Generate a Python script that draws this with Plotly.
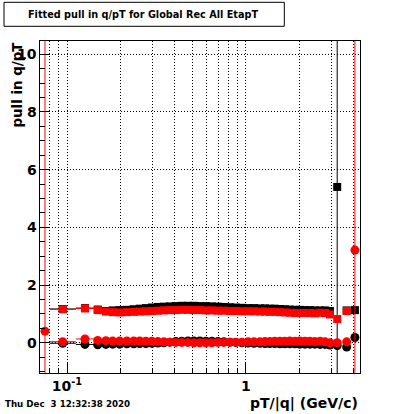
import plotly.graph_objects as go

# ---- data ----
pt = [0.0946, 0.126, 0.1485, 0.165, 0.180, 0.197, 0.216, 0.236, 0.255, 0.276,
      0.298, 0.322, 0.348, 0.376, 0.406, 0.438, 0.474, 0.512, 0.553, 0.597,
      0.645, 0.697, 0.753, 0.814, 0.879, 0.950, 1.03, 1.11, 1.20, 1.28,
      1.36, 1.45, 1.55, 1.65, 1.76, 1.88, 2.00, 2.14, 2.28, 2.43,
      2.60, 2.77, 2.95, 3.24, 3.66, 4.07]

black_sigma = [1.17, 1.20, 1.15, 1.10, 1.12, 1.13, 1.14, 1.16, 1.18, 1.20,
               1.22, 1.24, 1.25, 1.26, 1.27, 1.28, 1.28, 1.28, 1.27, 1.27,
               1.26, 1.25, 1.24, 1.23, 1.22, 1.21, 1.20, 1.20, 1.19, 1.19,
               1.18, 1.18, 1.17, 1.16, 1.15, 1.14, 1.14, 1.13, 1.13, 1.12,
               1.12, 1.12, 1.10, 5.40, 1.12, 1.13]
black_sigma_err = [0.03, 0.03, 0.03, 0.03, 0.03, 0.03, 0.03, 0.03, 0.03, 0.03,
                   0.03, 0.03, 0.03, 0.03, 0.03, 0.03, 0.03, 0.03, 0.03, 0.03,
                   0.03, 0.03, 0.03, 0.03, 0.03, 0.03, 0.03, 0.03, 0.03, 0.03,
                   0.03, 0.03, 0.03, 0.03, 0.03, 0.03, 0.03, 0.03, 0.03, 0.03,
                   0.04, 0.04, 0.05, 30.0, 0.05, 0.05]

black_mean = [-0.02, -0.06, -0.07, -0.06, -0.05, -0.05, -0.04, -0.04, -0.03, -0.03,
              -0.02, -0.01, 0.00, 0.02, 0.04, 0.05, 0.06, 0.06, 0.06, 0.05,
              0.05, 0.04, 0.03, 0.02, 0.01, 0.00, -0.01, -0.02, -0.02, -0.03,
              -0.03, -0.03, -0.04, -0.04, -0.04, -0.04, -0.05, -0.05, -0.05, -0.05,
              -0.06, -0.06, -0.08, -0.10, -0.15, 0.18]

pt_red = [0.0753] + pt

red_sigma = [None, 1.16, 1.19, 1.13, 1.08, 1.06, 1.05, 1.06, 1.07, 1.08, 1.09,
             1.10, 1.11, 1.12, 1.13, 1.13, 1.14, 1.14, 1.13, 1.13, 1.12,
             1.12, 1.11, 1.11, 1.10, 1.10, 1.09, 1.09, 1.09, 1.08, 1.08,
             1.07, 1.07, 1.06, 1.05, 1.04, 1.03, 1.03, 1.03, 1.03, 1.02,
             1.04, 1.03, 0.98, 0.82, 1.10, None]

red_mean = [0.40, 0.035, 0.13, 0.08, 0.07, 0.06, 0.06, 0.06, 0.06, 0.06, 0.05,
            0.05, 0.04, 0.03, 0.02, 0.01, 0.01, 0.01, 0.00, 0.00, 0.00,
            0.00, 0.01, 0.01, 0.02, 0.02, 0.02, 0.03, 0.03, 0.03, 0.04,
            0.04, 0.05, 0.05, 0.05, 0.06, 0.05, 0.06, 0.05, 0.05, 0.04,
            0.05, 0.03, 0.00, 0.00, 0.03, 3.21]
red_mean_err = [30.0, 0.03, 0.03, 0.03, 0.03, 0.03, 0.03, 0.03, 0.03, 0.03, 0.03,
                0.03, 0.03, 0.03, 0.03, 0.03, 0.03, 0.03, 0.03, 0.03, 0.03,
                0.03, 0.03, 0.03, 0.03, 0.03, 0.03, 0.03, 0.03, 0.03, 0.03,
                0.03, 0.03, 0.03, 0.03, 0.04, 0.04, 0.04, 0.04, 0.04, 0.05,
                0.05, 0.05, 0.05, 0.05, 0.06, 30.0]

# horizontal bin extents for the first (wide) bins, as distances from the centre
xerr_minus = [0.0146, 0.014] + [0.0] * 44
xerr_plus = [0.0174, 0.020] + [0.0] * 44

x_major = [0.1, 1]
x_major_text = ["10<sup>-1</sup>", "1"]
x_minor = [0.08, 0.09, 0.2, 0.3, 0.4, 0.5, 0.6, 0.7, 0.8, 0.9, 2, 3, 4]
y_ticks = [0, 2, 4, 6, 8, 10]
y_tick_text = ["0", "2", "4", "6", "8", "10"]

title = "Fitted pull in q/pT for Global Rec All EtapT"
x_title = "pT/|q| (GeV/c)"
y_title = "pull in q/pT"
date_text = "Thu Dec \u00a03 12:32:38 2020"

FONT = "DejaVu Sans"
W, H = 400, 414
L, R, T, B = 40, 40, 41, 41


def px(xp):
    return (xp - L) / (W - L - R)


def py(yp):
    return (H - B - yp) / (H - T - B)


fig = go.Figure()

fig.add_trace(go.Scatter(
    x=pt, y=black_sigma, mode="markers",
    marker=dict(symbol="square", size=8, color="black"),
    error_y=dict(type="data", array=black_sigma_err, color="black", thickness=1, width=0),
    error_x=dict(type="data", symmetric=False, array=xerr_plus, arrayminus=xerr_minus,
                 color="black", thickness=1, width=0),
))
fig.add_trace(go.Scatter(
    x=pt, y=black_mean, mode="markers",
    marker=dict(symbol="circle", size=9, color="black"),
    error_y=dict(type="data", array=[0.03] * len(pt), color="black", thickness=1, width=0),
    error_x=dict(type="data", symmetric=False, array=xerr_plus, arrayminus=xerr_minus,
                 color="black", thickness=1, width=0),
))
fig.add_trace(go.Scatter(
    x=pt_red, y=red_sigma, mode="markers",
    marker=dict(symbol="square", size=8, color="#ff0000"),
    error_y=dict(type="data", array=[0.03] * len(pt_red), color="#ff0000", thickness=1, width=0),
    error_x=dict(type="data", symmetric=False, array=[0.0] + xerr_plus,
                 arrayminus=[0.0] + xerr_minus, color="#ff0000", thickness=1, width=0),
))
fig.add_trace(go.Scatter(
    x=pt_red, y=red_mean, mode="markers",
    marker=dict(symbol="circle", size=9, color="#ff0000"),
    error_y=dict(type="data", array=red_mean_err, color="#ff0000", thickness=1, width=0),
    error_x=dict(type="data", symmetric=False, array=[0.0] + xerr_plus,
                 arrayminus=[0.0] + xerr_minus, color="#ff0000", thickness=1, width=0),
))

grid_dash = "1px,2px"
tickfont = dict(family=FONT, size=14, color="black", weight="bold")

annotations = [
    dict(text=title, xref="paper", yref="paper", x=px(143), y=py(14.5),
         xanchor="center", yanchor="middle", showarrow=False,
         font=dict(family=FONT, size=9.7, color="black", weight="bold")),
    dict(text=y_title, xref="paper", yref="paper", x=px(17), y=py(84.5),
         xanchor="center", yanchor="middle", showarrow=False, textangle=-90,
         font=dict(family=FONT, size=13.4, color="black", weight="bold")),
    dict(text=x_title, xref="paper", yref="paper", x=px(359.5), y=py(403),
         xanchor="right", yanchor="middle", showarrow=False,
         font=dict(family=FONT, size=14, color="black", weight="bold")),
    dict(text=date_text, xref="paper", yref="paper", x=px(3), y=py(404),
         xanchor="left", yanchor="middle", showarrow=False,
         font=dict(family=FONT, size=8.7, color="black", weight="bold")),
]
# y tick labels placed just left of the frame, at the axis values
for v, t in zip(y_ticks, y_tick_text):
    annotations.append(dict(text=t, xref="paper", yref="y", x=px(38.5), y=v,
                            xanchor="right", yanchor="middle", showarrow=False,
                            font=tickfont))

fig.update_layout(
    width=W, height=H,
    margin=dict(l=L, r=R, t=T, b=B, pad=0),
    paper_bgcolor="white", plot_bgcolor="white",
    showlegend=False,
    xaxis=dict(
        type="log", range=[-1.151, 0.638],
        showline=True, linecolor="black", linewidth=1, mirror=True,
        ticks="inside", ticklen=10, tickcolor="black", tickwidth=1,
        tickmode="array", tickvals=x_major, ticktext=x_major_text,
        tickfont=tickfont, automargin=False,
        showgrid=True, gridcolor="black", gridwidth=1, griddash=grid_dash,
        zeroline=False,
        minor=dict(tickmode="array", tickvals=x_minor, ticks="inside", ticklen=5,
                   tickcolor="black", showgrid=True, gridcolor="black",
                   gridwidth=1, griddash=grid_dash),
    ),
    yaxis=dict(
        range=[-1.05, 10.46],
        showline=True, linecolor="black", linewidth=1, mirror=True,
        ticks="inside", ticklen=10, tickcolor="black", tickwidth=1,
        tickmode="array", tickvals=y_ticks, showticklabels=False,
        automargin=False,
        showgrid=True, gridcolor="black", gridwidth=1, griddash=grid_dash,
        zeroline=False,
        minor=dict(dtick=0.5, tick0=0, ticks="inside", ticklen=5,
                   tickcolor="black", showgrid=False),
    ),
    shapes=[dict(type="rect", xref="paper", yref="paper",
                 x0=px(4), x1=px(284.3), y0=py(26.3), y1=py(2.3),
                 line=dict(color="black", width=1), fillcolor="white")],
    annotations=annotations,
)

fig.write_html("out.html",
               config={"displayModeBar": False},
               post_script="document.body.style.margin='0';document.body.style.padding='0';")
